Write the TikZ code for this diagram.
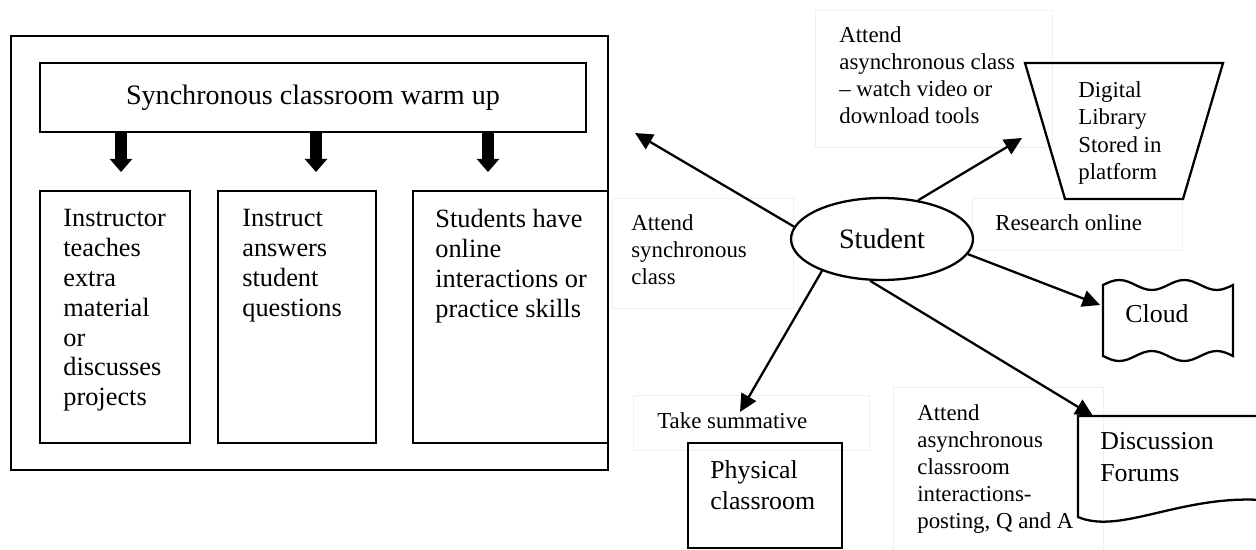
\documentclass[tikz,border=0pt]{standalone}
\usepackage{fontspec}
\setmainfont{Liberation Serif}
\usetikzlibrary{arrows.meta,shapes.geometric}

\tikzset{
  box/.style={draw,line width=1.3pt,inner sep=0pt},
  boxtext/.style={anchor=north west,inner sep=0pt,align=left,font=\fontsize{15}{17}\selectfont},
  note/.style={anchor=north west,inner sep=0pt,align=left,font=\fontsize{13}{15.4}\selectfont},
  shapetext/.style={inner sep=0pt,align=left,font=\fontsize{14.7}{17.5}\selectfont},
  ghost/.style={draw=black!6,line width=0.5pt},
  arr/.style={line width=1.3pt,-{Triangle[length=10pt,width=9.5pt]}},
  fatarr/.style={line width=7pt,-{Triangle[length=7.5pt,width=13pt,line width=0pt]}}
}

\begin{document}
\begin{tikzpicture}[x=0.02cm,y=-0.02cm]
\useasboundingbox (0,0) rectangle (1256,550);

% faint frames of the text boxes
\draw[ghost] (815,10) rectangle (1052,147);
\draw[ghost] (612,198) rectangle (793,308);
\draw[ghost] (972,198) rectangle (1182,250);
\draw[ghost] (633,395) rectangle (869,450);
\draw[ghost] (893,387) rectangle (1103,560);

% synchronous part
\draw[box] (11,36) rectangle (608,470);
\node(warmup) at (313,97.5)[box,minimum width=10.92cm,minimum height=1.38cm,font=\fontsize{16}{19}\selectfont] {Synchronous classroom warm up};
\node(teach) at (115,317)[box,minimum width=3cm,minimum height=5.04cm] {};
\node(answer) at (297,317)[box,minimum width=3.16cm,minimum height=5.04cm] {};
\node(practice) at (510.5,317)[box,minimum width=3.9cm,minimum height=5.04cm] {};
\node(teachtxt) at (63,209)[boxtext] {Instructor\\teaches\\extra\\material\\or\\discusses\\projects};
\node(answertxt) at (242,209)[boxtext] {Instruct\\answers\\student\\questions};
\node(practicetxt) at (435,209)[boxtext] {Students have\\online\\interactions or\\practice skills};

\coordinate(d1) at (121,172);
\coordinate(d2) at (316,172);
\coordinate(d3) at (488,172);
\draw[fatarr] (d1 |- warmup.south) -- (d1);
\draw[fatarr] (d2 |- warmup.south) -- (d2);
\draw[fatarr] (d3 |- warmup.south) -- (d3);

% student and the places
\node(student) at (882,239)[ellipse,box,minimum width=3.64cm,minimum height=1.64cm,font=\fontsize{16}{19}\selectfont] {Student};
\draw[box] (1025,63) -- (1223,63) -- (1183,199) -- (1065,199) -- cycle;
\node(library) at (1078,81)[shapetext,anchor=north west,font=\fontsize{13}{15.7}\selectfont] {Digital\\Library\\Stored in\\platform};
\draw[box] (1103,285) sin (1119.25,280) cos (1135.5,285) sin (1151.75,290) cos (1168,285)
  sin (1184.25,280) cos (1200.5,285) sin (1216.75,290) cos (1233,285) -- (1233,356)
  sin (1216.75,351) cos (1200.5,356) sin (1184.25,361) cos (1168,356)
  sin (1151.75,351) cos (1135.5,356) sin (1119.25,361) cos (1103,356) -- cycle;
\node(cloud) at (1157,314)[shapetext] {Cloud};
\node(physbox) at (765,495.5)[box,minimum width=3.08cm,minimum height=2.1cm] {};
\node(physical) at (710,460)[shapetext,anchor=north west] {Physical\\classroom};
\draw[box] (1078,416) -- (1262,416) -- (1262,500) .. controls (1180,495) and (1120,535) .. (1078,517) -- cycle;
\node(forums) at (1100,432)[shapetext,anchor=north west,font=\fontsize{14.7}{18}\selectfont] {Discussion\\Forums};

% notes
\node(asyncnote) at (839,26)[note] {Attend\\asynchronous class\\-- watch video or\\download tools};
\node(syncnote) at (631,214)[note] {Attend\\synchronous\\class};
\node(research) at (995,214)[note] {Research online};
\node(summative) at (657,412)[note] {Take summative};
\node(postnote) at (917,404)[note] {Attend\\asynchronous\\classroom\\interactions-\\posting, Q and A};

\coordinate(a1) at (635,133);
\coordinate(a2) at (1022,138);
\coordinate(a3) at (1100,305);
\coordinate(a4) at (740,412);
\coordinate(a5) at (1093,416);

\path [arr]
  (student.172)   edge   (a1)
  (student.47)    edge   (a2)
  (student.-10)   edge   (a3)
  (student.208)   edge   (a4)
  (student.254)   edge   (a5);
\end{tikzpicture}
\end{document}
